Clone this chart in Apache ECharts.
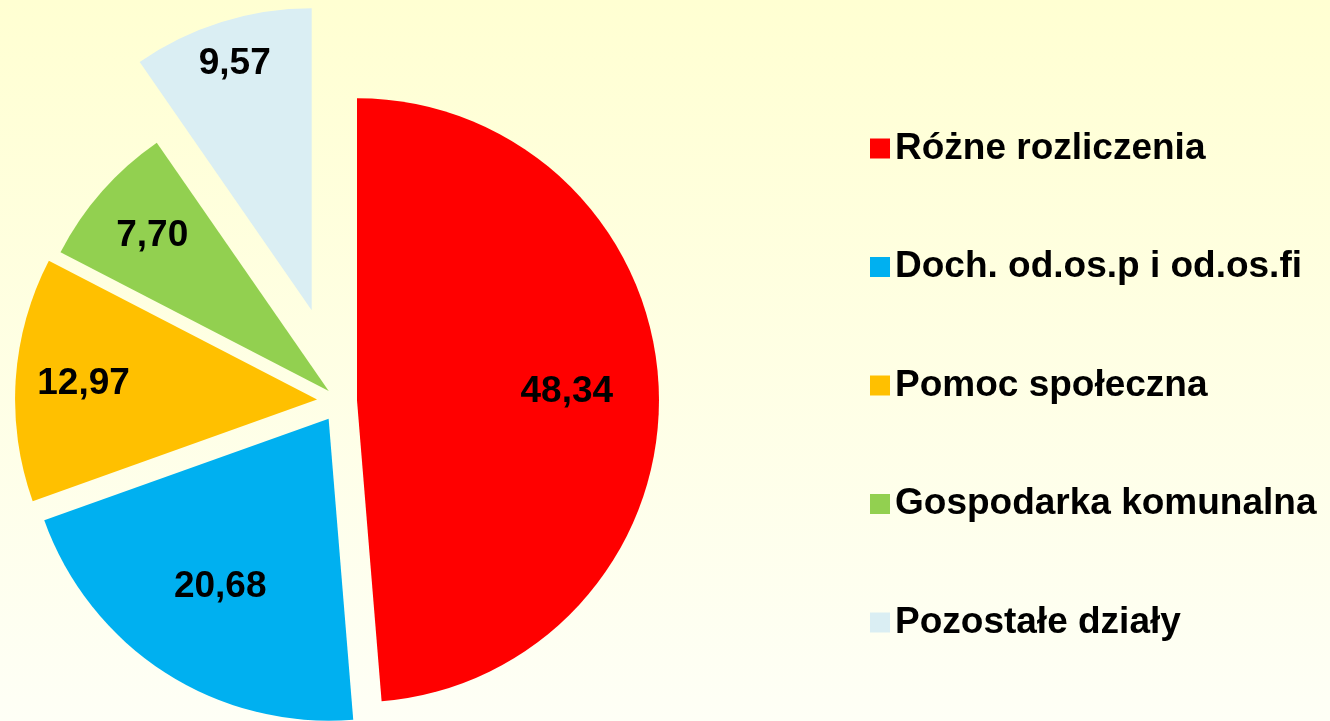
<!DOCTYPE html>
<html>
<head>
<meta charset="utf-8">
<script src="https://cdn.jsdelivr.net/npm/echarts@6/dist/echarts.min.js"></script>
<style>
    html, body { margin: 0; padding: 0; }
    #chart { width: 1330px; height: 721px; }
</style>
</head>
<body>
<div id="chart"></div>
<script>
const categories = [
    "Różne rozliczenia",
    "Doch. od.os.p i od.os.fi",
    "Pomoc społeczna",
    "Gospodarka komunalna",
    "Pozostałe działy",
]
const values = [48.34, 20.68, 12.97, 7.70, 9.57]
const colors = ["#FF0000", "#00B0F0", "#FFC000", "#92D050", "#DAEEF3"]

// layout: pie origin, radius, how far each slice is pulled out,
// and at what distance from its tip the value label sits
const origin = [340, 401]
const radius = 302
const explode = [17, 21, 23, 15, 95]
const labelDist = [210, 200, 234, 235, 258]

const font = "'Liberation Sans', Arial, sans-serif"
const total = values.reduce((a, b) => a + b, 0)

// mid angle of every slice, clockwise from 12 o'clock (degrees)
const midAngles = []
let acc = 0
for (const v of values) {
    const span = v / total * 360
    midAngles.push(acc + span / 2)
    acc += span
}

const fmt = v => v.toFixed(2).replace(".", ",")
const hidden = "rgba(0,0,0,0)"

const series = []
values.forEach((_, i) => {
    const a = midAngles[i] * Math.PI / 180
    const center = [
        origin[0] + explode[i] * Math.sin(a),
        origin[1] - explode[i] * Math.cos(a),
    ]
    const common = {
        type: "pie",
        center: center,
        startAngle: 90,
        clockwise: true,
        silent: true,
        animation: false,
        avoidLabelOverlap: false,
        labelLine: { show: false },
        emphasis: { disabled: true },
    }
    // the slice itself
    series.push(Object.assign({}, common, {
        radius: [0, radius],
        label: { show: false },
        data: values.map((v, j) => ({
            name: categories[j],
            value: v,
            itemStyle: {
                color: j === i ? colors[j] : hidden,
                borderWidth: 0,
            },
        })),
    }))
    // a transparent ring only used to place the value label
    const inner = 2 * (labelDist[i] - 3) - radius
    series.push(Object.assign({}, common, {
        radius: [inner, radius],
        data: values.map((v, j) => ({
            name: categories[j],
            value: v,
            itemStyle: { color: hidden, borderWidth: 0 },
            label: {
                show: j === i,
                position: "inside",
                formatter: () => fmt(v),
                color: "#000",
                fontFamily: font,
                fontWeight: "bold",
                fontSize: 37,
            },
        })),
    }))
})

const chart = echarts.init(document.getElementById("chart"))
chart.setOption({
    backgroundColor: new echarts.graphic.LinearGradient(0, 0, 0, 1, [
        { offset: 0, color: "#FFFFD2" },
        { offset: 1, color: "#FEFFF6" },
    ]),
    legend: {
        orient: "vertical",
        left: 870,
        top: 130,
        padding: 0,
        icon: "rect",
        itemWidth: 20,
        itemHeight: 20,
        itemGap: 81.5,
        selectedMode: false,
        textStyle: {
            color: "#000",
            fontFamily: font,
            fontWeight: "bold",
            fontSize: 37,
            lineHeight: 37,
        },
        data: categories.map((name, i) => ({
            name: name,
            itemStyle: { color: colors[i] },
        })),
    },
    series: series,
})
</script>
</body>
</html>
